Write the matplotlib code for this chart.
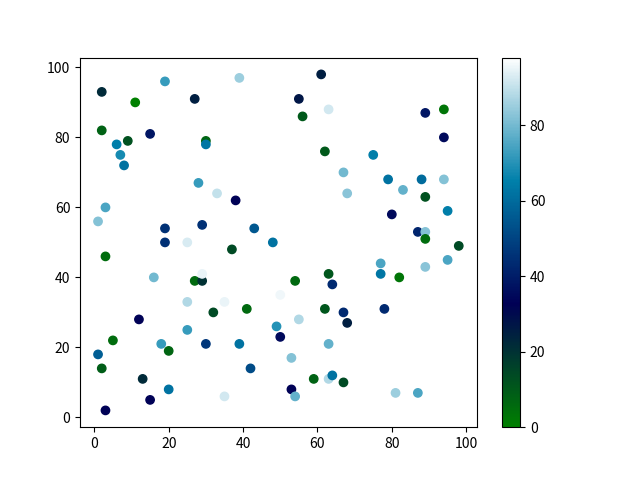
import matplotlib
matplotlib.use("Agg")
import matplotlib.pyplot as plt

plt.rcParams['font.family'] = ['Noto Sans CJK SC', 'DejaVu Sans']

# 散点数据 (x, y, 颜色值)
x = [2, 19, 39, 11, 27, 2, 9, 6, 15, 30, 30, 7, 8, 28, 33, 38, 3, 20, 1, 19,
     29, 43, 19, 25, 48, 61, 55, 63, 56, 89, 94, 94, 62, 75, 67, 68, 79, 83, 88, 94,
     89, 95, 80, 87, 89, 89, 98, 37, 3, 16, 27, 29, 29, 25, 35, 32, 41, 50, 12, 25,
     5, 18, 20, 30, 39, 49, 50, 1, 2, 42, 13, 20, 15, 35, 3, 77, 77, 82, 89, 95,
     54, 63, 64, 62, 67, 68, 78, 55, 63, 53, 59, 63, 64, 67, 53, 54, 81, 87]
y = [93, 96, 97, 90, 91, 82, 79, 78, 81, 79, 78, 75, 72, 67, 64, 62, 60, 60, 56, 54,
     55, 54, 50, 50, 50, 98, 91, 88, 86, 87, 88, 80, 76, 75, 70, 64, 68, 65, 68, 68,
     63, 59, 58, 53, 53, 51, 49, 48, 46, 40, 39, 39, 41, 33, 33, 30, 31, 35, 28, 25,
     22, 21, 19, 21, 21, 26, 23, 18, 14, 14, 11, 8, 5, 6, 2, 44, 41, 40, 43, 45,
     39, 41, 38, 31, 30, 27, 31, 28, 21, 17, 11, 11, 12, 10, 8, 6, 7, 7]
c = [22, 72, 85, 0, 25, 8, 12, 65, 38, 7, 63, 68, 62, 72, 90, 33, 75, 98, 82, 45,
     45, 55, 45, 93, 62, 25, 27, 92, 10, 38, 3, 35, 10, 65, 80, 83, 62, 78, 60, 82,
     12, 65, 35, 42, 82, 5, 14, 14, 5, 80, 6, 20, 95, 88, 95, 14, 6, 96, 33, 72,
     5, 72, 7, 47, 62, 70, 35, 57, 9, 52, 22, 62, 33, 92, 33, 75, 63, 3, 83, 75,
     6, 11, 43, 11, 43, 25, 43, 88, 78, 82, 8, 88, 62, 14, 33, 78, 85, 75]

fig, ax = plt.subplots()
sc = ax.scatter(x, y, c=c, cmap='ocean')
fig.colorbar(sc)

plt.savefig("out.png")
